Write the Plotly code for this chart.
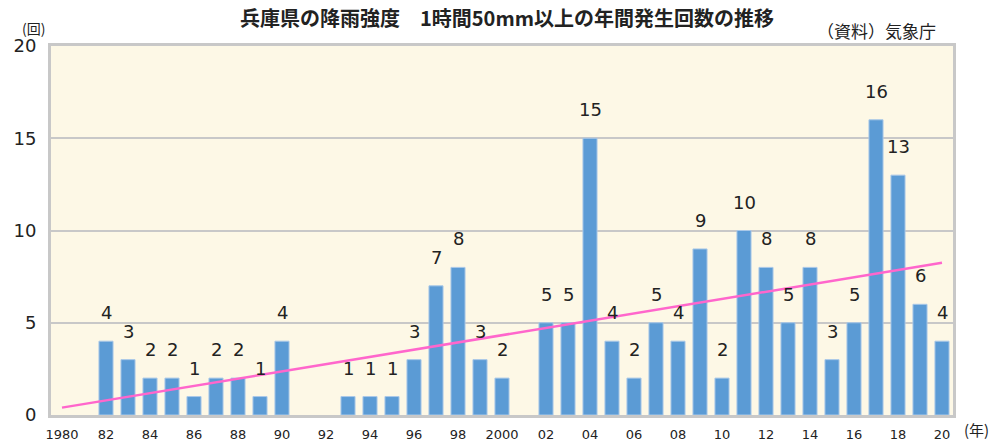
import plotly.graph_objects as go

years = list(range(1980, 2021))
counts = [0, 0, 4, 3, 2, 2, 1, 2, 2, 1, 4, 0, 0, 1, 1, 1, 3, 7, 8, 3, 2,
          0, 5, 5, 15, 4, 2, 5, 4, 9, 2, 10, 8, 5, 8, 3, 5, 16, 13, 6, 4]
trend_x = [1980, 2020]
trend_y = [0.4, 8.25]
tick_vals = list(range(1980, 2021, 2))
tick_text = ["1980", "82", "84", "86", "88", "90", "92", "94", "96", "98", "2000",
             "02", "04", "06", "08", "10", "12", "14", "16", "18", "20"]

FONT = "DejaVu Sans, Noto Sans CJK JP"
JP = "Noto Sans CJK JP"

fig = go.Figure()
fig.add_trace(go.Bar(
    x=years, y=counts,
    marker=dict(color="#5B9BD5",
                line=dict(width=[1 if v > 0 else 0 for v in counts], color="#A9C8E8")),
    width=0.64,
    hoverinfo="x+y",
))
fig.add_trace(go.Scatter(
    x=trend_x, y=trend_y, mode="lines",
    line=dict(color="#FF66CC", width=2.5),
    hoverinfo="skip",
))

label_annotations = [
    dict(x=yr, y=v, xref="x", yref="y", text=str(v), showarrow=False,
         xanchor="center", yanchor="bottom", yshift=16,
         font=dict(size=18, color="#222222", family=FONT))
    for yr, v in zip(years, counts) if v > 0
]

fig.update_layout(
    width=994, height=441,
    margin=dict(l=51, r=41, t=46, b=26, autoexpand=False),
    paper_bgcolor="white",
    plot_bgcolor="#FDF8E6",
    showlegend=False,
    bargap=0.36,
    font=dict(family=FONT, color="#222222"),
    xaxis=dict(
        range=[1979.5, 2020.5],
        tickvals=tick_vals, ticktext=tick_text,
        tickfont=dict(size=13, color="#222222"),
        showgrid=False, zeroline=False,
        showline=True, linecolor="#C8C8C8", linewidth=3, mirror=True,
        ticks="outside", ticklen=5, tickcolor="rgba(0,0,0,0)",
        automargin=False,
    ),
    yaxis=dict(
        range=[0, 20],
        tickvals=[0, 5, 10, 15, 20],
        tickfont=dict(size=18, color="#222222"),
        showgrid=True, gridcolor="#C8C8C8", gridwidth=2,
        zeroline=False,
        showline=True, linecolor="#C8C8C8", linewidth=3, mirror=True,
        ticks="outside", ticklen=8, tickcolor="rgba(0,0,0,0)",
        automargin=False,
    ),
    annotations=label_annotations + [
        dict(text="<b>兵庫県の降雨強度　1時間50mm以上の年間発生回数の推移</b>",
             x=0.505, y=1.076, xref="paper", yref="paper", showarrow=False,
             xanchor="center", yanchor="middle",
             font=dict(size=20, color="#222222", family=JP)),
        dict(text="（資料）気象庁", x=0.915, y=1.043, xref="paper", yref="paper",
             xanchor="center", yanchor="middle",
             showarrow=False, font=dict(size=17, color="#222222", family=JP)),
        dict(text="(回)", x=-0.019, y=1.05, xref="paper", yref="paper",
             xanchor="center", yanchor="middle",
             showarrow=False, font=dict(size=14, color="#222222", family=JP)),
        dict(text="(年)", x=1.042, y=-0.04, xref="paper", yref="paper",
             xanchor="right", yanchor="middle",
             showarrow=False, font=dict(size=15, color="#222222", family=JP)),
    ],
)

fig.write_html("out.html", config={"displayModeBar": False},
               post_script="document.body.style.margin='0';")
